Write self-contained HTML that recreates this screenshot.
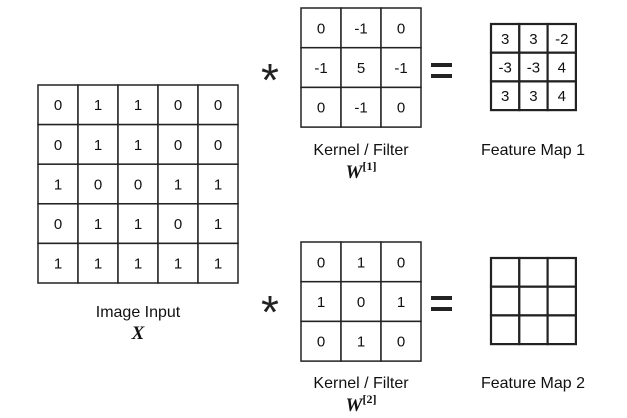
<!DOCTYPE html>
<html><head><meta charset="utf-8"><style>
body{margin:0;background:#fff;}
svg{display:block;font-family:"Liberation Sans",sans-serif;}
</style></head><body>
<svg width="627" height="418" viewBox="0 0 627 418" id="s">
<g id="grids"></g>
<text x="270" y="96" font-size="46" text-anchor="middle" fill="#222">*</text>
<text x="270" y="328" font-size="46" text-anchor="middle" fill="#222">*</text>
<g><rect x="431" y="63" width="21" height="4" fill="#222"/><rect x="431" y="74" width="21" height="4" fill="#222"/></g>
<g><rect x="431" y="296" width="21" height="4" fill="#222"/><rect x="431" y="307" width="21" height="4" fill="#222"/></g>
<text x="138" y="317" font-size="16" text-anchor="middle" fill="#111">Image Input</text>
<text x="138" y="339" font-size="19" font-style="italic" font-weight="bold" font-family="Liberation Serif,serif" text-anchor="middle" fill="#111">X</text>
<text x="361" y="155" font-size="16" text-anchor="middle" fill="#111">Kernel / Filter</text>
<text x="361" y="178" font-size="19" font-style="italic" font-weight="bold" font-family="Liberation Serif,serif" text-anchor="middle" fill="#111">W<tspan font-size="12" font-style="normal" dy="-8">[1]</tspan></text>
<text x="533" y="155" font-size="16" text-anchor="middle" fill="#111">Feature Map 1</text>
<text x="361" y="388" font-size="16" text-anchor="middle" fill="#111">Kernel / Filter</text>
<text x="361" y="411" font-size="19" font-style="italic" font-weight="bold" font-family="Liberation Serif,serif" text-anchor="middle" fill="#111">W<tspan font-size="12" font-style="normal" dy="-8">[2]</tspan></text>
<text x="533" y="388" font-size="16" text-anchor="middle" fill="#111">Feature Map 2</text>
</svg>
<script>
const imageInput=[[0,1,1,0,0],[0,1,1,0,0],[1,0,0,1,1],[0,1,1,0,1],[1,1,1,1,1]];
const kernel1=[[0,-1,0],[-1,5,-1],[0,-1,0]];
const featureMap1=[[3,3,-2],[-3,-3,4],[3,3,4]];
const kernel2=[[0,1,0],[1,0,1],[0,1,0]];
const featureMap2=[["","",""],["","",""],["","",""]];
const NS="http://www.w3.org/2000/svg";
const g=document.getElementById('grids');
function grid(name,data,x0,y0,cw,ch,sw,fs){
  const gg=document.createElementNS(NS,'g');
  
  
  data.forEach((row,r)=>row.forEach((v,c)=>{
    const rc=document.createElementNS(NS,'rect');
    rc.setAttribute('x',x0+c*cw);rc.setAttribute('y',y0+r*ch);
    rc.setAttribute('width',cw);rc.setAttribute('height',ch);
    rc.setAttribute('fill','#fff');rc.setAttribute('stroke','#222');rc.setAttribute('stroke-width',sw);
    
    
    gg.appendChild(rc);
    if(v!==""){
      const t=document.createElementNS(NS,'text');
      t.setAttribute('x',x0+c*cw+cw/2);t.setAttribute('y',y0+r*ch+ch/2+fs*0.36);
      t.setAttribute('text-anchor','middle');t.setAttribute('font-size',fs);t.setAttribute('fill','#111');
      t.textContent=v;
      
      
      gg.appendChild(t);
    }
  }));
  g.appendChild(gg);
}
grid('image-input-grid',imageInput,38,85,40,39.6,1.5,15);
grid('kernel-1-grid',kernel1,301,8,40,39.7,1.5,15);
grid('feature-map-1-grid',featureMap1,491,24,28.3,28.7,2.2,15);
grid('kernel-2-grid',kernel2,301,242,40,39.7,1.5,15);
grid('feature-map-2-grid',featureMap2,491,258,28.3,28.7,2.2,15);
</script>
</body></html>
